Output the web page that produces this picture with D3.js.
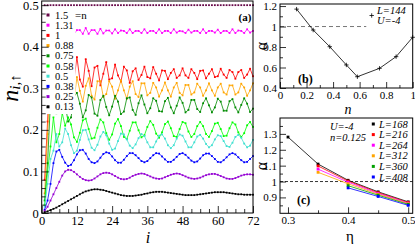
<!DOCTYPE html>
<html>
<head>
<meta charset="utf-8">
<script src="https://cdn.jsdelivr.net/npm/d3@7"></script>
<style>
  body { margin: 0; background: #fff; }
  svg { display: block; }
  text { font-family: "Liberation Serif", "Times New Roman", serif; }
</style>
</head>
<body>
<svg width="415" height="245"></svg>
<script>
// panel (a): site index and density per filling
const sites = [1,2,3,4,5,6,7,8,9,10,11,12,13,14,15,16,17,18,19,20,21,22,23,24,25,26,27,28,29,30,31,32,33,34,35,36,
  37,38,39,40,41,42,43,44,45,46,47,48,49,50,51,52,53,54,55,56,57,58,59,60,61,62,63,64,65,66,67,68,69,70,71,72];

const n150 = [0.5,0.5,0.5,0.5,0.5,0.5,0.5,0.5,0.5,0.5,0.5,0.5,0.5,0.5,0.5,0.5,0.5,0.5,0.5,0.5,0.5,0.5,0.5,0.5,
  0.5,0.5,0.5,0.5,0.5,0.5,0.5,0.5,0.5,0.5,0.5,0.5,0.5,0.5,0.5,0.5,0.5,0.5,0.5,0.5,0.5,0.5,0.5,0.5,
  0.5,0.5,0.5,0.5,0.5,0.5,0.5,0.5,0.5,0.5,0.5,0.5,0.5,0.5,0.5,0.5,0.5,0.5,0.5,0.5,0.5,0.5,0.5,0.5];
const n131 = [0.30,0.47,0.42,0.45,0.42,0.45,0.43,0.445,0.428,0.444,0.43,
  0.440,0.440,0.431,0.445,0.431,0.440,0.440,0.431,0.443,
  0.432,0.439,0.439,0.432,0.442,0.433,0.439,0.438,0.433,0.442,
  0.433,0.438,0.438,0.433,0.442,0.433,0.438,0.438,0.433,0.442,
  0.433,0.438,0.438,0.433,0.442,0.434,0.438,0.437,0.433,0.441,
  0.434,0.438,0.438,0.433,0.442,0.433,0.438,0.438,0.434,0.441,
  0.433,0.438,0.438,0.433,0.442,0.433,0.439,0.438,0.433,0.442,
  0.434,0.438];
const n100 = [0.08,0.22,0.38,0.29,0.37,0.36,0.29,0.34,0.37,0.30,0.32,
  0.375,0.321,0.304,0.370,0.342,0.305,0.350,0.354,0.307,
  0.335,0.363,0.321,0.324,0.357,0.331,0.316,0.352,0.343,0.313,
  0.341,0.348,0.320,0.332,0.352,0.327,0.324,0.351,0.335,0.319,
  0.343,0.342,0.322,0.337,0.346,0.325,0.331,0.348,0.331,0.325,
  0.346,0.337,0.322,0.342,0.343,0.324,0.335,0.346,0.327,0.329,
  0.347,0.333,0.325,0.344,0.339,0.323,0.339,0.344,0.325,0.333,
  0.347,0.329];
const n088 = [0.047,0.19,0.33,0.26,0.31,0.32,0.26,0.28,0.33,0.29,0.27,
  0.327,0.294,0.268,0.306,0.324,0.282,0.273,0.317,0.317,
  0.279,0.286,0.317,0.304,0.275,0.295,0.319,0.295,0.275,0.304,
  0.317,0.286,0.279,0.312,0.312,0.283,0.289,0.313,0.302,0.280,
  0.295,0.314,0.295,0.280,0.302,0.313,0.289,0.283,0.308,0.308,
  0.285,0.290,0.311,0.302,0.282,0.295,0.312,0.295,0.282,0.302,
  0.311,0.290,0.285,0.307,0.307,0.285,0.290,0.311,0.302,0.282,
  0.295,0.312];
const n075 = [0.03,0.12,0.27,0.30,0.24,0.26,0.30,0.26,0.22,0.23,0.28,
  0.289,0.263,0.230,0.247,0.284,0.278,0.239,0.234,0.272,
  0.282,0.255,0.235,0.256,0.282,0.268,0.238,0.244,0.276,0.278,
  0.248,0.236,0.264,0.283,0.261,0.240,0.252,0.276,0.270,0.245,
  0.244,0.269,0.277,0.254,0.240,0.258,0.278,0.265,0.242,0.248,
  0.272,0.272,0.250,0.243,0.264,0.276,0.259,0.242,0.254,0.275,
  0.268,0.246,0.246,0.269,0.274,0.254,0.242,0.260,0.276,0.263,
  0.243,0.251];
const n058 = [0.02,0.10,0.16,0.23,0.17,0.19,0.24,0.21,
  0.230,0.213,0.182,0.171,0.193,0.223,0.227,
  0.202,0.179,0.181,0.205,0.225,0.218,0.192,0.176,0.189,0.215,
  0.226,0.209,0.183,0.178,0.198,0.218,0.218,0.199,0.182,0.187,
  0.207,0.221,0.212,0.191,0.181,0.194,0.214,0.220,0.204,0.185,
  0.183,0.202,0.219,0.216,0.196,0.183,0.190,0.209,0.219,0.209,
  0.190,0.183,0.197,0.215,0.217,0.202,0.185,0.186,0.204,0.218,
  0.213,0.194,0.183,0.192,0.211,0.219,0.207];
const n050 = [0.015,0.07,0.13,0.15,0.19,0.16,0.17,
  0.203,0.190,0.163,0.144,0.150,0.176,0.199,0.200,
  0.177,0.157,0.151,0.164,0.184,0.195,0.187,0.167,0.152,0.155,
  0.173,0.191,0.189,0.177,0.162,0.156,0.165,0.180,0.190,0.185,
  0.170,0.158,0.158,0.172,0.186,0.189,0.179,0.163,0.156,0.163,
  0.179,0.189,0.186,0.172,0.158,0.158,0.170,0.184,0.188,0.179,
  0.166,0.158,0.163,0.177,0.187,0.185,0.173,0.161,0.159,0.169,
  0.183,0.188,0.181,0.167,0.158,0.162,0.176];
const n038 = [0.008,0.03,0.07,0.12,0.148,0.152,0.135,0.121,0.113,0.116,
  0.127,0.141,0.151,0.152,0.143,0.130,0.122,0.120,0.124,0.133,
  0.142,0.146,0.144,0.136,0.127,0.121,0.121,0.128,0.137,0.144,
  0.144,0.139,0.132,0.125,0.122,0.125,0.132,0.139,0.144,0.143,
  0.136,0.129,0.123,0.123,0.128,0.135,0.142,0.144,0.140,0.133,
  0.126,0.122,0.124,0.131,0.139,0.143,0.143,0.137,0.130,0.123,
  0.122,0.127,0.134,0.141,0.144,0.141,0.134,0.127,0.122,0.123,
  0.130,0.137];
const n025 = [0.005,0.015,0.03,0.045,0.06,0.075,0.09,0.10,0.104,0.103,
  0.099,0.093,0.087,0.082,0.079,0.078,0.079,0.083,0.088,0.093,
  0.096,0.097,0.096,0.093,0.089,0.085,0.082,0.081,0.082,0.085,
  0.089,0.092,0.094,0.095,0.094,0.091,0.088,0.085,0.083,0.082,
  0.083,0.086,0.089,0.092,0.094,0.095,0.094,0.091,0.088,0.085,
  0.083,0.082,0.083,0.085,0.088,0.091,0.093,0.094,0.094,0.092,
  0.089,0.086,0.083,0.082,0.082,0.084,0.087,0.090,0.092,0.093,
  0.093,0.092];
const n013 = [0.002,0.004,0.007,0.010,0.013,0.017,0.021,0.025,0.029,0.033,
  0.037,0.041,0.045,0.049,0.052,0.054,0.056,0.057,0.057,0.056,
  0.055,0.053,0.051,0.049,0.047,0.045,0.043,0.042,0.041,0.041,
  0.041,0.042,0.043,0.044,0.046,0.047,0.049,0.050,0.051,0.051,
  0.051,0.050,0.049,0.048,0.047,0.046,0.045,0.044,0.043,0.043,
  0.043,0.043,0.044,0.045,0.046,0.047,0.048,0.049,0.050,0.050,
  0.050,0.050,0.049,0.048,0.047,0.046,0.045,0.045,0.044,0.044,
  0.044,0.044];

const fillLabels = ["1.5", "1.31", "1", "0.88", "0.75", "0.58", "0.5", "0.38", "0.25", "0.13"];
const fillColors = ["#670748", "#ff00ff", "#ff0000", "#ffa500", "#008b00", "#00ff00", "#40e0d0", "#0000ff", "#9400d3", "#000000"];
const fillValues = [n150, n131, n100, n088, n075, n058, n050, n038, n025, n013];

// panel (b): exponent vs filling
const fillB = [0.125, 0.25, 0.375, 0.5, 0.583, 0.75, 0.875, 1];
const alphaB = [1.17, 0.966, 0.803, 0.625, 0.51, 0.592, 0.706, 0.895];

// panel (c): exponent vs eta for several sizes
const etaC = [0.3, 0.35, 0.4, 0.45, 0.5];
const aL168 = [1.28, 1.11, 1.008, 0.935, 0.872];
const aL216 = [null, 1.098, 1.003, 0.930, 0.868];
const aL264 = [null, 1.078, 0.996, 0.925, 0.864];
const aL312 = [null, 1.058, 0.986, 0.920, 0.860];
const aL360 = [null, null, 0.974, 0.914, 0.856];
const aL408 = [null, null, 0.960, 0.906, 0.850];
const sizeLabels = ["L=168", "L=216", "L=264", "L=312", "L=360", "L=408"];
const sizeColors = ["#000000", "#ff0000", "#ff00ff", "#ffa500", "#00a000", "#0000ff"];
const sizeValues = [aL168, aL216, aL264, aL312, aL360, aL408];

const svg = d3.select("svg");
const fmt = d3.format("~g");

function styleAxis(g, size) {
  g.select(".domain").remove();
  g.selectAll("line").attr("stroke", "#000").attr("stroke-width", 0.8);
  g.selectAll("text").attr("font-family", "Liberation Serif, serif").attr("font-size", size).attr("fill", "#000");
}

function axes(x, y, o) {
  const [x0, x1] = x.range(), [y0, y1] = y.range();
  const g = svg.append("g");
  g.append("g").attr("transform", `translate(0,${y0})`)
    .call(d3.axisBottom(x).tickValues(o.xMinor).tickSize(-o.minor).tickFormat(""))
    .call(s => styleAxis(s, o.fs));
  g.append("g").attr("transform", `translate(0,${y0})`)
    .call(d3.axisBottom(x).tickValues(o.xMajor).tickSize(-o.major).tickPadding(o.xpad).tickFormat(fmt))
    .call(s => styleAxis(s, o.fs));
  g.append("g").attr("transform", `translate(${x0},0)`)
    .call(d3.axisLeft(y).tickValues(o.yMinor).tickSize(-o.minor).tickFormat(""))
    .call(s => styleAxis(s, o.fs));
  g.append("g").attr("transform", `translate(${x0},0)`)
    .call(d3.axisLeft(y).tickValues(o.yMajor).tickSize(-o.major).tickPadding(o.ypad).tickFormat(fmt))
    .call(s => styleAxis(s, o.fs));
  g.append("rect").attr("x", x0).attr("y", y1).attr("width", x1 - x0).attr("height", y0 - y1)
    .attr("fill", "none").attr("stroke", "#000").attr("stroke-width", 1);
}

// ---------- panel (a)
const xa = d3.scaleLinear().domain([0, 72]).range([41.7, 253]);
const ya = d3.scaleLinear().domain([0, 0.51]).range([213, 1]);

const lineA = d3.line().x((d, i) => xa(sites[i])).y(d => ya(d));
fillValues.forEach((vals, k) => {
  const col = fillColors[k];
  if (k > 0) {
    svg.append("path").attr("d", lineA(vals)).attr("fill", "none")
      .attr("stroke", col).attr("stroke-width", 0.8);
  }
  svg.append("g").selectAll("rect").data(vals).join("rect")
    .attr("x", (d, i) => xa(sites[i]) - 0.9).attr("y", d => ya(d) - 0.9)
    .attr("width", 1.8).attr("height", 1.8).attr("fill", col);
});

// legend (a) box hides the curves behind it
svg.append("rect").attr("x", 43).attr("y", 8).attr("width", 32.5).attr("height", 106).attr("fill", "#fff");
fillLabels.forEach((lab, k) => {
  const yy = 15 + k * 10.2;
  svg.append("rect").attr("x", 46.5).attr("y", yy - 1.5).attr("width", 3).attr("height", 3).attr("fill", fillColors[k]);
  svg.append("text").attr("x", 55).attr("y", yy + 3.6).attr("font-size", 10.5).text(lab);
});
svg.append("text").attr("x", 75).attr("y", 19).attr("font-size", 11).text("=n");

axes(xa, ya, {
  xMajor: [0, 12, 24, 36, 48, 60, 72], xMinor: [3, 6, 9, 15, 18, 21, 27, 30, 33, 39, 42, 45, 51, 54, 57, 63, 66, 69],
  yMajor: [0, 0.1, 0.2, 0.3, 0.4, 0.5],
  yMinor: [0.02, 0.04, 0.06, 0.08, 0.12, 0.14, 0.16, 0.18, 0.22, 0.24, 0.26, 0.28, 0.32, 0.34, 0.36, 0.38, 0.42, 0.44, 0.46, 0.48],
  major: 7, minor: 4, fs: 12.5, xpad: 3, ypad: 3
});
svg.append("text").attr("x", 245).attr("y", 20.5).attr("text-anchor", "middle")
  .attr("font-family", "Liberation Sans, Arial, sans-serif").attr("font-weight", "bold").attr("font-size", 11).text("(a)");
svg.append("text").attr("x", 148).attr("y", 243).attr("text-anchor", "middle")
  .attr("font-style", "italic").attr("font-size", 16).text("i");
const yl = svg.append("text").attr("transform", "translate(17.5,88) rotate(-90)").attr("text-anchor", "middle");
yl.append("tspan").attr("font-style", "italic").attr("font-size", 24).text("n");
yl.append("tspan").attr("font-style", "italic").attr("font-size", 15).attr("dy", 2).text("i,");
yl.append("tspan").attr("font-size", 15).text("\u2191");

// ---------- panel (b)
const xb = d3.scaleLinear().domain([0, 1]).range([280, 412.7]);
const yb = d3.scaleLinear().domain([0.4, 1.22]).range([88, 4]);
svg.append("line").attr("x1", xb(0)).attr("x2", xb(0.65)).attr("y1", yb(1)).attr("y2", yb(1))
  .attr("stroke", "#777").attr("stroke-width", 1).attr("stroke-dasharray", "4,3");
svg.append("path").attr("d", d3.line().x((d, i) => xb(fillB[i])).y(d => yb(d))(alphaB))
  .attr("fill", "none").attr("stroke", "#000").attr("stroke-width", 0.8);
const plus = "M-2.2,0H2.2M0,-2.2V2.2";
svg.append("g").selectAll("path").data(alphaB).join("path")
  .attr("transform", (d, i) => `translate(${xb(fillB[i])},${yb(d)})`)
  .attr("d", plus).attr("stroke", "#000").attr("stroke-width", 0.8);
axes(xb, yb, {
  xMajor: [0, 0.2, 0.4, 0.6, 0.8, 1], xMinor: [0.1, 0.3, 0.5, 0.7, 0.9],
  yMajor: [0.4, 0.6, 0.8, 1, 1.2], yMinor: [0.5, 0.7, 0.9, 1.1],
  major: 6, minor: 3, fs: 11, xpad: 3, ypad: 3
});
svg.append("path").attr("transform", "translate(371.7,15.5)").attr("d", plus).attr("stroke", "#000").attr("stroke-width", 0.8);
svg.append("text").attr("x", 377).attr("y", 13.5).attr("font-style", "italic").attr("font-size", 10.5).text("L=144");
svg.append("text").attr("x", 377).attr("y", 24).attr("font-style", "italic").attr("font-size", 10.5).text("U=-4");
svg.append("text").attr("x", 298).attr("y", 83).attr("font-family", "Liberation Sans, Arial, sans-serif")
  .attr("font-weight", "bold").attr("font-size", 12).text("(b)");
svg.append("text").attr("x", 348).attr("y", 114).attr("text-anchor", "middle")
  .attr("font-style", "italic").attr("font-size", 14).text("n");
svg.append("text").attr("transform", "translate(267,46) rotate(-90)").attr("text-anchor", "middle")
  .attr("font-size", 16).text("\u03b1");

// ---------- panel (c)
const xc = d3.scaleLinear().domain([0.2867, 0.5075]).range([280, 412.7]);
const yc = d3.scaleLinear().domain([0.8, 1.4]).range([213.3, 118]);
svg.append("line").attr("x1", 280).attr("x2", 412.7).attr("y1", yc(1)).attr("y2", yc(1))
  .attr("stroke", "#000").attr("stroke-width", 0.8).attr("stroke-dasharray", "3,2");
const lineC = d3.line().defined(d => d !== null).x((d, i) => xc(etaC[i])).y(d => yc(d));
sizeValues.forEach((vals, k) => {
  svg.append("path").attr("d", lineC(vals)).attr("fill", "none")
    .attr("stroke", sizeColors[k]).attr("stroke-width", 0.8);
  svg.append("g").selectAll("rect").data(etaC.map((e, i) => [e, vals[i]]).filter(p => p[1] !== null)).join("rect")
    .attr("x", d => xc(d[0]) - 1.4).attr("y", d => yc(d[1]) - 1.4)
    .attr("width", 2.8).attr("height", 2.8).attr("fill", sizeColors[k]);
});
axes(xc, yc, {
  xMajor: [0.3, 0.4, 0.5], xMinor: [0.35, 0.45],
  yMajor: [0.9, 1, 1.1, 1.2, 1.3], yMinor: [0.85, 0.95, 1.05, 1.15, 1.25, 1.35],
  major: 6, minor: 3, fs: 11, xpad: 3, ypad: 3
});
sizeLabels.forEach((lab, k) => {
  const yy = 124 + k * 10.6;
  svg.append("rect").attr("x", 371.8).attr("y", yy - 1.5).attr("width", 3).attr("height", 3).attr("fill", sizeColors[k]);
  svg.append("text").attr("x", 379).attr("y", yy + 3.5).attr("font-style", "italic").attr("font-size", 10.5).text(lab);
});
svg.append("text").attr("x", 330).attr("y", 130).attr("font-style", "italic").attr("font-size", 10.5).text("U=-4");
svg.append("text").attr("x", 330).attr("y", 140.5).attr("font-style", "italic").attr("font-size", 10.5).text("n=0.125");
svg.append("text").attr("x", 297).attr("y", 203.5).attr("font-family", "Liberation Sans, Arial, sans-serif")
  .attr("font-weight", "bold").attr("font-size", 12).text("(c)");
svg.append("text").attr("x", 350).attr("y", 241).attr("text-anchor", "middle")
  .attr("font-size", 15).text("\u03b7");
svg.append("text").attr("transform", "translate(267,166) rotate(-90)").attr("text-anchor", "middle")
  .attr("font-size", 16).text("\u03b1");
</script>
</body>
</html>
